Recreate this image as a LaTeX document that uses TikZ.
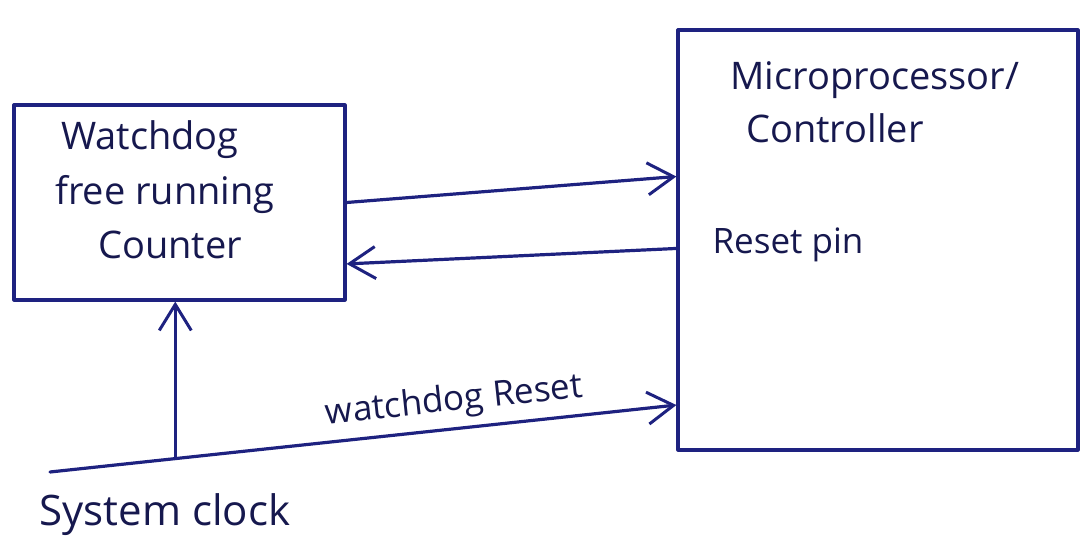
\documentclass[tikz,border=0pt]{standalone}
\usepackage{fontspec}
\setmainfont{Open Sans}
\usetikzlibrary{arrows.meta,positioning,calc}
\definecolor{ink}{RGB}{30,34,128}
\definecolor{inkdark}{RGB}{22,24,78}
\tikzset{
  every picture/.style={color=ink, line width=1.6pt},
  box/.style={draw=ink, inner sep=0pt, line join=round},
  hand/.style={text=inkdark, font=\fontsize{19}{22}\selectfont, inner sep=1pt},
  handsmall/.style={hand, font=\fontsize{17.5}{20}\selectfont},
  flow/.style={-{Straight Barb[length=13pt,width=16pt,line width=1.5pt]}, line cap=round},
}
\begin{document}
\begin{tikzpicture}[x=0.5pt, y=-0.5pt]
  \useasboundingbox (0,0) rectangle (1088,550);
  % the two blocks
  \node[box, minimum width=165.5pt, minimum height=97.5pt] (wd) at (179.5,202.5) {};
  \node[box, minimum width=200pt, minimum height=210pt] (mc) at (878,240) {};
  \node[hand] (wdname) at (150,140) {Watchdog};
  \node[hand] (wdfree) at (165,195) {free running};
  \node[hand] (wdcnt) at (170,245) {Counter};
  \node[hand] (mcname) at (875,80) {Microprocessor/};
  \node[hand] (mcctl) at (835,128) {Controller};
  \node[handsmall] (rstpin) at (788,245) {Reset pin};
  % pins on the controller side
  \coordinate (mcin) at ($(mc.north west)!0.35!(mc.south west)$);
  \coordinate (mcout) at ($(mc.north west)!0.52!(mc.south west)$);
  \coordinate (mcrst) at ($(mc.north west)!0.89!(mc.south west)$);
  \coordinate (wdin) at ($(wd.north east)!0.81!(wd.south east)$);
  \draw[flow] (wd.east) -- (mcin);
  \draw[flow] (mcout) -- (wdin);
  % clock line with its tap into the counter
  \coordinate (clk) at (50,472);
  \coordinate (tap) at ($(clk)!0.2!(mcrst)$);
  \draw[flow] (clk) -- (mcrst)
    node[handsmall, pos=0.65, above=3pt, sloped] (wdrst) {watchdog Reset};
  \draw[flow] (tap) -- (tap |- wd.south);
  \node[hand, font=\fontsize{21}{24}\selectfont] (sysclk) at (165,515) {System clock};
\end{tikzpicture}
\end{document}
